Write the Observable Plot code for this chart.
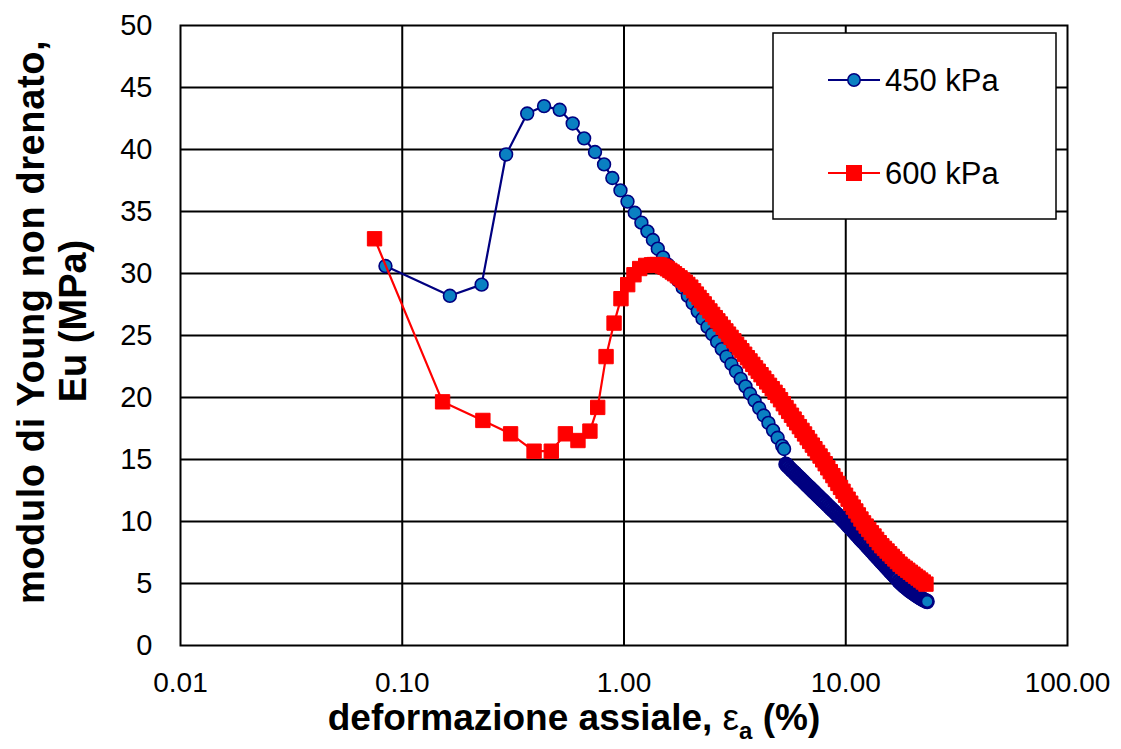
<!DOCTYPE html>
<html>
<head>
<meta charset="utf-8">
<script src="https://cdn.jsdelivr.net/npm/d3@7"></script>
<script src="https://cdn.jsdelivr.net/npm/@observablehq/plot@0.6"></script>
<style>
  body { margin: 0; background: #ffffff; }
  #chart svg { display: block; }
</style>
</head>
<body>
<div id="chart"></div>
<script>
// ---- Data ----
const seriesNames = ["450 kPa", "600 kPa"];
const xTicks = [0.01, 0.1, 1, 10, 100];
const yTicks = [0, 5, 10, 15, 20, 25, 30, 35, 40, 45, 50];
const xGrid = [0.1, 1, 10];
const yGrid = [5, 10, 15, 20, 25, 30, 35, 40, 45];

// 450 kPa series: strain (%) and Eu (MPa)
const blueX = [
  0.084, 0.164, 0.228, 0.294, 0.366, 0.436, 0.513, 0.587, 0.661, 0.740,
  0.813, 0.886, 0.964, 1.037, 1.118, 1.198, 1.275, 1.350, 1.420,
  1.50, 1.58, 1.66, 1.75, 1.84, 1.94, 2.04, 2.15, 2.26, 2.38,
  2.50, 2.63, 2.76, 2.90, 3.05, 3.20, 3.36, 3.53, 3.70, 3.88,
  4.07, 4.27, 4.48, 4.70, 4.93, 5.17, 5.27,
  5.37, 5.45, 5.5, 5.6, 5.7, 5.8, 5.9, 6.0, 6.1, 6.2, 6.3, 6.4, 6.5, 6.6, 6.7, 6.8, 6.9,
  7.0, 7.1, 7.2, 7.3, 7.4, 7.5, 7.6, 7.7, 7.8, 7.9, 8.0,
  8.15, 8.3, 8.45, 8.6, 8.75, 8.9, 9.05, 9.2, 9.35, 9.5, 9.65, 9.8,
  9.95, 10.1, 10.25, 10.4, 10.55, 10.7, 10.85, 11.0, 11.15, 11.3, 11.45, 11.6, 11.75, 11.9, 12.05,
  12.25, 12.45, 12.65, 12.85, 13.05, 13.25, 13.45, 13.65, 13.85, 14.05, 14.25, 14.45, 14.65,
  14.85, 15.05, 15.25, 15.45, 15.65, 15.85, 16.05, 16.25, 16.45, 16.65, 16.85, 17.05,
  17.35, 17.65, 17.95, 18.25, 18.55, 18.85, 19.15, 19.45, 19.75, 20.05, 20.35, 20.65,
  20.95, 21.25, 21.55, 21.85, 22.15, 22.45, 22.75, 23.05, 23.3
];
const blueY = [
  30.6, 28.2, 29.1, 39.6, 42.9, 43.5, 43.2, 42.1, 40.9, 39.8,
  38.8, 37.7, 36.7, 35.8, 34.9, 34.1, 33.4, 32.7, 32.0,
  31.3, 30.7, 30.1, 29.45, 28.85, 28.2, 27.6, 26.95, 26.35, 25.7,
  25.1, 24.5, 23.9, 23.3, 22.7, 22.1, 21.5, 20.9, 20.3, 19.75,
  19.15, 18.55, 17.95, 17.35, 16.75, 16.1, 15.85,
  14.62, 14.5, 14.42, 14.28, 14.15, 14.02, 13.89, 13.76, 13.63, 13.51, 13.39, 13.27, 13.15, 13.04, 12.92, 12.81, 12.70,
  12.59, 12.48, 12.38, 12.27, 12.17, 12.07, 11.97, 11.87, 11.77, 11.68, 11.58,
  11.44, 11.30, 11.16, 11.03, 10.90, 10.77, 10.64, 10.52, 10.40, 10.28, 10.16, 10.04,
  9.91, 9.79, 9.66, 9.54, 9.42, 9.30, 9.18, 9.07, 8.95, 8.84, 8.72, 8.61, 8.51, 8.40, 8.29,
  8.15, 8.01, 7.88, 7.75, 7.62, 7.49, 7.36, 7.24, 7.11, 6.99, 6.87, 6.75, 6.64,
  6.52, 6.41, 6.30, 6.19, 6.08, 5.97, 5.87, 5.76, 5.66, 5.56, 5.46, 5.36,
  5.18, 5.05, 4.93, 4.82, 4.71, 4.61, 4.51, 4.41, 4.32, 4.24, 4.16, 4.08,
  4.01, 3.94, 3.87, 3.81, 3.75, 3.69, 3.64, 3.59, 3.55
];

// 600 kPa series: strain (%) and Eu (MPa)
const redX = [
  0.075, 0.152, 0.231, 0.308, 0.393, 0.470, 0.544, 0.620, 0.702, 0.761,
  0.830, 0.902, 0.969, 1.039, 1.109, 1.177, 1.253,
  1.33, 1.37, 1.41, 1.45, 1.49, 1.53, 1.57, 1.61, 1.65, 1.69,
  1.74, 1.79, 1.84, 1.89, 1.94, 2.00, 2.06, 2.12, 2.18, 2.24,
  2.30, 2.37, 2.44, 2.51, 2.58, 2.65, 2.72, 2.80, 2.88, 2.96,
  3.04, 3.13, 3.22, 3.31, 3.40, 3.50, 3.60, 3.70, 3.81, 3.92,
  4.03, 4.15, 4.27, 4.40, 4.53, 4.66, 4.80, 4.94, 5.08, 5.23,
  5.38, 5.53, 5.69, 5.85, 6.01, 6.18, 6.35, 6.52, 6.70, 6.88,
  7.07, 7.26, 7.46, 7.66, 7.87, 8.08, 8.30, 8.52, 8.75, 8.98,
  9.22, 9.47, 9.72, 9.98, 10.25, 10.53, 10.81, 11.10, 11.40, 11.71,
  12.03, 12.36, 12.70, 13.05, 13.41, 13.78, 14.16, 14.55, 14.95, 15.36,
  15.78, 16.21, 16.65, 17.10, 17.57, 18.05, 18.54, 19.04, 19.56, 20.09,
  20.64, 21.20, 21.78, 22.37, 23.00
];
const redY = [
  32.8, 19.65, 18.15, 17.07, 15.67, 15.67, 17.07, 16.53, 17.29, 19.2,
  23.3, 26.0, 27.97, 29.1, 29.9, 30.4, 30.65,
  30.7, 30.72, 30.72, 30.68, 30.6, 30.5, 30.38, 30.25, 30.12, 29.98,
  29.82, 29.65, 29.47, 29.3, 29.12, 28.9, 28.61, 28.34, 28.07, 27.81,
  27.55, 27.26, 26.98, 26.70, 26.44, 26.18, 25.93, 25.65, 25.37, 25.11,
  24.85, 24.57, 24.29, 24.03, 23.77, 23.49, 23.21, 22.95, 22.67, 22.39,
  22.12, 21.84, 21.56, 21.26, 20.98, 20.71, 20.42, 20.14, 19.82, 19.50,
  19.19, 18.88, 18.57, 18.26, 17.96, 17.65, 17.35, 17.06, 16.76, 16.46,
  16.16, 15.87, 15.57, 15.28, 14.97, 14.66, 14.33, 14.02, 13.70, 13.39,
  13.07, 12.75, 12.44, 12.12, 11.80, 11.48, 11.16, 10.85, 10.53, 10.20,
  9.89, 9.63, 9.36, 9.09, 8.83, 8.56, 8.29, 8.04, 7.83, 7.62,
  7.40, 7.19, 6.98, 6.77, 6.56, 6.38, 6.23, 6.07, 5.91, 5.75,
  5.59, 5.44, 5.28, 5.12, 4.95
];

// ---- Build tables ----
const blue = blueX.map((x, i) => ({x, y: blueY[i]}));
const red = redX.map((x, i) => ({x, y: redY[i]}));
// the part of the 450 kPa curve after the step at ~5.3 % is recorded much more densely
const blueA = blue.filter(d => d.x < 5.3);
const blueB = blue.filter(d => d.x >= 5.3);

const FONT = "'Liberation Sans', Arial, Helvetica, sans-serif";
const NAVY = "#000080";
const BLUEFILL = "#0a80c2";
const RED = "#ff0000";

const chart = Plot.plot({
  width: 1121,
  height: 749,
  marginLeft: 180,
  marginRight: 54,
  marginTop: 25,
  marginBottom: 104,
  style: {fontFamily: FONT, background: "#ffffff", color: "#000000"},
  x: {type: "log", domain: [0.01, 100]},
  y: {domain: [0, 50]},
  marks: [
    Plot.gridX(xGrid, {stroke: "#000", strokeOpacity: 1, strokeWidth: 2}),
    Plot.gridY(yGrid, {stroke: "#000", strokeOpacity: 1, strokeWidth: 2}),
    Plot.frame({stroke: "#000", strokeWidth: 2}),
    Plot.axisX(xTicks, {tickSize: 0, tickPadding: 27, fontSize: 28, tickFormat: d => d.toFixed(2), label: null, fill: "#000"}),
    Plot.axisY(yTicks, {tickSize: 0, tickPadding: 28, fontSize: 29, tickFormat: d => String(d), label: null, fill: "#000"}),
    Plot.line(blue, {x: "x", y: "y", stroke: NAVY, strokeWidth: 2.2}),
    Plot.dot(blueA, {x: "x", y: "y", r: 6.4, fill: BLUEFILL, stroke: NAVY, strokeWidth: 1.6}),
    Plot.dot(blueB, {x: "x", y: "y", r: 6.3, fill: BLUEFILL, stroke: NAVY, strokeWidth: 2.7}),
    Plot.line(red, {x: "x", y: "y", stroke: RED, strokeWidth: 2.2}),
    Plot.dot(red, {x: "x", y: "y", r: 8.1, symbol: "square", fill: RED, stroke: RED, strokeWidth: 1})
  ]
});

document.getElementById("chart").appendChild(chart);

// ---- Titles and legend ----
const svg = d3.select(chart);

// Y-axis title (two lines, rotated)
const yt = svg.append("g").attr("font-family", FONT).attr("font-weight", "bold").attr("font-size", 38).attr("fill", "#000");
yt.append("text").attr("transform", "translate(44,322) rotate(-90)").attr("text-anchor", "middle")
  .attr("letter-spacing", 0.6).text("modulo di Young non drenato,");
yt.append("text").attr("transform", "translate(86,321) rotate(-90)").attr("text-anchor", "middle")
  .text("Eu (MPa)");

// X-axis title with subscript
const xt = svg.append("text").attr("x", 574).attr("y", 730).attr("text-anchor", "middle")
  .attr("font-family", FONT).attr("font-weight", "bold").attr("font-size", 37).attr("fill", "#000");
xt.append("tspan").text("deformazione assiale, ");
xt.append("tspan").attr("font-weight", "normal").text("ε");
xt.append("tspan").attr("font-size", 24).attr("dy", 9).text("a");
xt.append("tspan").attr("dy", -9).text(" (%)");

// Legend
const lg = svg.append("g").attr("font-family", FONT);
lg.append("rect").attr("x", 773).attr("y", 33).attr("width", 283).attr("height", 186)
  .attr("fill", "#fff").attr("stroke", "#000").attr("stroke-width", 1.5);
const items = [
  {name: seriesNames[0], y: 80, color: NAVY, fill: BLUEFILL, sym: "circle"},
  {name: seriesNames[1], y: 173, color: RED, fill: RED, sym: "square"}
];
items.forEach(it => {
  lg.append("line").attr("x1", 828).attr("x2", 880).attr("y1", it.y).attr("y2", it.y)
    .attr("stroke", it.color).attr("stroke-width", 2);
  if (it.sym === "circle") {
    lg.append("circle").attr("cx", 854).attr("cy", it.y).attr("r", 6.2)
      .attr("fill", it.fill).attr("stroke", it.color).attr("stroke-width", 1.5);
  } else {
    lg.append("rect").attr("x", 854 - 7.5).attr("y", it.y - 7.5).attr("width", 15).attr("height", 15)
      .attr("fill", it.fill).attr("stroke", it.color).attr("stroke-width", 1);
  }
  lg.append("text").attr("x", 885).attr("y", it.y + 11).attr("font-size", 31).attr("fill", "#000")
    .attr("text-anchor", "start").text(it.name);
});
</script>
</body>
</html>
